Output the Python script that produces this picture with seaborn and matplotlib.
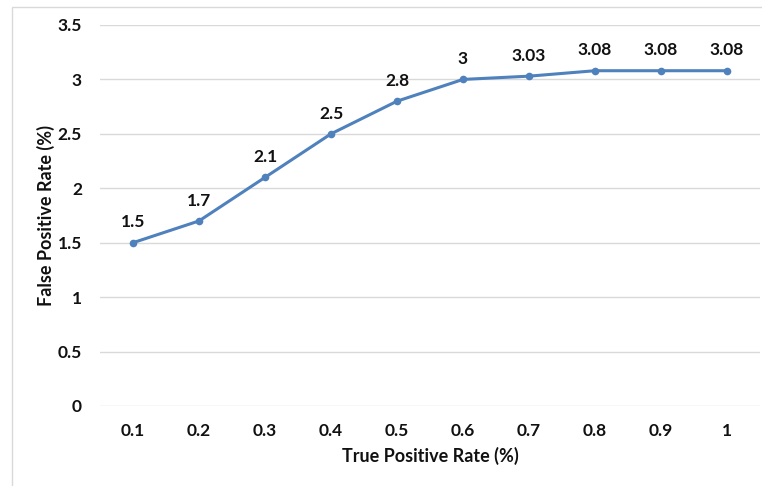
import matplotlib
matplotlib.use("Agg")
import matplotlib.pyplot as plt
import seaborn as sns
import pandas as pd
from matplotlib.patches import Rectangle

tpr_labels = ["0.1", "0.2", "0.3", "0.4", "0.5", "0.6", "0.7", "0.8", "0.9", "1"]
fpr_values = [1.5, 1.7, 2.1, 2.5, 2.8, 3.0, 3.03, 3.08, 3.08, 3.08]
value_labels = ["1.5", "1.7", "2.1", "2.5", "2.8", "3", "3.03", "3.08", "3.08", "3.08"]
y_ticks = [0, 0.5, 1, 1.5, 2, 2.5, 3, 3.5]
y_tick_labels = ["0", "0.5", "1", "1.5", "2", "2.5", "3", "3.5"]

df = pd.DataFrame({"tpr": tpr_labels, "fpr": fpr_values})

sns.set_theme(style="white")
plt.rcParams["font.family"] = ["Lato", "DejaVu Sans"]
plt.rcParams["font.weight"] = "bold"

line_color = "#4F81BD"
text_color = "#111111"

fig = plt.figure(figsize=(7.62, 4.86), dpi=100)
ax = fig.add_axes([100 / 762, 1 - 406 / 486, 660 / 762, 381 / 486])

positions = list(range(len(tpr_labels)))
sns.lineplot(x=positions, y=df["fpr"], ax=ax, color=line_color, linewidth=2.2,
             marker="o", markersize=5.5, markeredgewidth=0, sort=False)

ax.set_xlim(-0.5, len(tpr_labels) - 0.5)
ax.set_ylim(0, 3.5)
ax.set_xticks(positions)
ax.set_xticklabels(tpr_labels, fontsize=12.5, fontweight="bold", color=text_color)
ax.set_yticks(y_ticks)
ax.set_yticklabels(y_tick_labels, fontsize=12.5, fontweight="bold", color=text_color)
ax.tick_params(axis="both", length=0)
ax.tick_params(axis="x", pad=12)
ax.tick_params(axis="y", pad=13)

ax.grid(axis="y", color="#D9D9D9", linewidth=1.0)
ax.grid(axis="x", visible=False)
for spine in ax.spines.values():
    spine.set_visible(False)

for xpos, yval, lab in zip(positions, fpr_values, value_labels):
    ax.annotate(lab, (xpos, yval), xytext=(0, 11), textcoords="offset points",
                ha="center", va="baseline", fontsize=12.5, fontweight="bold",
                color=text_color)

ax.set_xlabel("True Positive Rate (%)", fontsize=13, fontweight="bold",
              color=text_color, labelpad=6)
ax.set_ylabel("False Positive Rate (%)", fontsize=13, fontweight="bold",
              color=text_color, labelpad=2)

# light frame around the chart area
fig.patches.append(Rectangle((12 / 762, -0.05), 1.2, 1 - 7 / 486 + 0.05,
                             transform=fig.transFigure, fill=False,
                             edgecolor="#D9D9D9", linewidth=1.0))

fig.savefig("out.png", dpi=100)
